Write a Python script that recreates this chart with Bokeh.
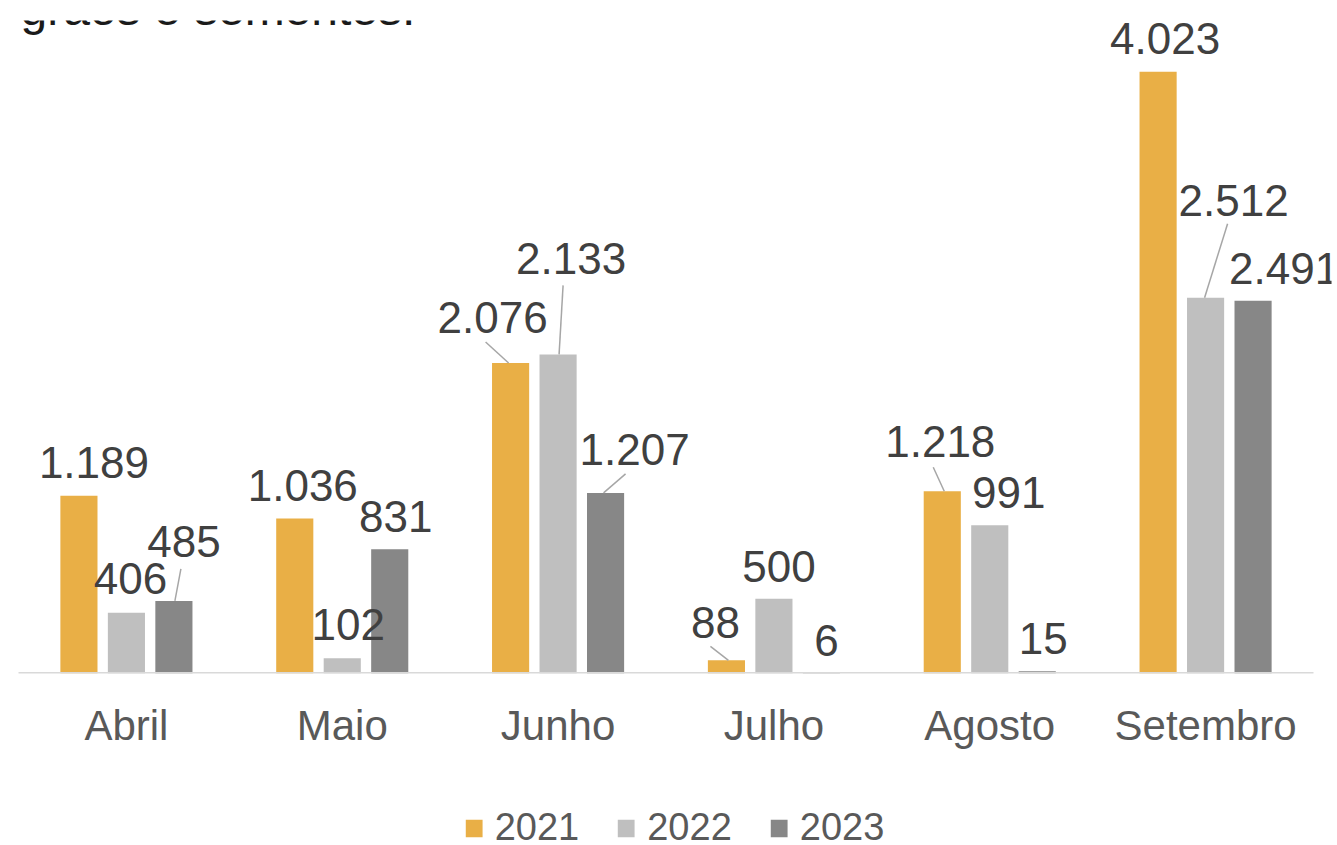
from bokeh.plotting import figure
from bokeh.layouts import column, row
from bokeh.models import FactorRange, Range1d, Label, Legend, LegendItem, ColumnDataSource, Spacer
from bokeh.transform import dodge
from bokeh.core.properties import value
from bokeh.embed import file_html
from bokeh.resources import INLINE

# ---------------- data ----------------
months = ["Abril", "Maio", "Junho", "Julho", "Agosto", "Setembro"]
series_names = ["2021", "2022", "2023"]
v2021 = [1189, 1036, 2076, 88, 1218, 4023]
v2022 = [406, 102, 2133, 500, 991, 2512]
v2023 = [485, 831, 1207, 6, 15, 2491]
title_text = "grãos e sementes."

# ---------------- styling / layout ----------------
colors = ["#E9AF46", "#BFBFBF", "#878787"]
bar_offsets = [-0.22, 0.0, 0.22]
bar_width = 0.172
FONT = "Liberation Sans"

W, H1, H2 = 1337, 780, 65
BL, BR, BT, BB = 0, 6, 20, 107
PAD = 18  # px of empty space on each side of the categories
frame_w = W - BL - BR
frame_h = H1 - BT - BB
y_end = 4365
px_cat = (frame_w - 2 * PAD) / len(months)
px_unit = frame_h / y_end
LEG_SHIFT = 10

# data label pixel offsets (relative to bar top centre), per series
lab_dx = [[15, 8, -18, -11, -2, 7], [4, 6, 13, 5, 19, 28], [10, 6, 29, 5, 6, 31]]
lab_dy = [[-33, -33, -45, -38, -50, -33], [-34, -34, -96, -32, -33, -97], [-59, -33, -43, -32, -33, -32]]

# leader lines: (month idx, series idx, start dx, start dy, end dx) in pixels
leaders = [
    (0, 2, 7, -32, 1),
    (2, 0, -25, -21, -2),
    (2, 1, 5, -69, 1),
    (2, 2, 20, -19, -2),
    (3, 0, -16, -14, 2),
    (4, 0, -9, -24, 2),
    (5, 1, 22, -74, -1),
]

series_vals = [v2021, v2022, v2023]


def fmt(v):
    return f"{v:,}".replace(",", ".")


xr = FactorRange(*months, factor_padding=0,
                 range_padding=2 * PAD / (frame_w - 2 * PAD), range_padding_units="percent")
p = figure(
    width=W, height=H1,
    x_range=xr,
    y_range=Range1d(0, y_end),
    output_backend="svg", toolbar_location=None,
    y_axis_location=None,
    min_border_left=BL, min_border_right=BR, min_border_top=BT, min_border_bottom=BB,
)
p.outline_line_color = None
p.grid.grid_line_color = None
p.background_fill_color = "white"
p.border_fill_color = "white"

sources = []
for s, vals in enumerate(series_vals):
    src = ColumnDataSource(dict(
        month=months,
        val=vals,
        lab=[fmt(v) for v in vals],
        dx=lab_dx[s],
        dy=lab_dy[s],
    ))
    sources.append(src)
    p.vbar(x=dodge("month", bar_offsets[s], range=p.x_range), top="val", width=bar_width,
           bottom=0, source=src, fill_color=colors[s], line_color=None)

# baseline (category axis line) spanning the categories only
p.segment(x0=[0], y0=[0], x1=[len(months)], y1=[0], line_color="#D9D9D9", line_width=3)

# leader lines
x0s, y0s, x1s, y1s = [], [], [], []
for (mi, si, sdx, sdy, edx) in leaders:
    v = series_vals[si][mi]
    xc = mi + 0.5 + bar_offsets[si]
    x0s.append(xc + sdx / px_cat)
    y0s.append(v - sdy / px_unit)
    x1s.append(xc + edx / px_cat)
    y1s.append(v)
p.segment(x0=x0s, y0=y0s, x1=x1s, y1=y1s, line_color="#A6A6A6", line_width=1.5)

# data labels (drawn on top of all bars)
for s, src in enumerate(sources):
    p.text(x=dodge("month", bar_offsets[s], range=p.x_range), y="val", text="lab",
           x_offset="dx", y_offset="dy", source=src,
           text_align="center", text_baseline="middle",
           text_font=value(FONT), text_font_size="44px", text_color="#404040")

# axis
ax = p.xaxis[0]
ax.axis_line_color = None
ax.major_tick_line_color = None
ax.minor_tick_line_color = None
ax.major_label_text_font = FONT
ax.major_label_text_font_size = "42px"
ax.major_label_text_color = "#595959"
ax.major_label_standoff = 22

# (cut-off) title
p.add_layout(Label(x=20, y=665, x_units="screen", y_units="screen",
                   text=title_text, text_font=FONT, text_font_size="48px",
                   text_color="#1A1A1A", text_baseline="alphabetic"))

# ---------------- legend strip ----------------
lg = figure(width=W - LEG_SHIFT, height=H2, output_backend="svg", toolbar_location=None,
            x_range=FactorRange(*months), y_range=Range1d(-2, -1),
            x_axis_location=None, y_axis_location=None,
            min_border_left=0, min_border_right=0, min_border_top=0, min_border_bottom=0)
lg.outline_line_color = None
lg.grid.grid_line_color = None
lg.border_fill_color = "white"
lg.background_fill_color = "white"
swatches = [lg.vbar(x="month", top="val", width=0, source=sources[i],
                    fill_color=colors[i], line_color=None) for i in range(3)]
legend = Legend(
    items=[LegendItem(label=series_names[i], renderers=[swatches[i]]) for i in range(3)],
    location="bottom_center", orientation="horizontal",
    glyph_width=21, glyph_height=22,
    label_text_font=FONT, label_text_font_size="38px", label_text_color="#595959",
    label_standoff=11, spacing=36, padding=0, margin=-4,
    border_line_color=None, background_fill_alpha=0,
)
lg.add_layout(legend)

layout = column(p, row(Spacer(width=LEG_SHIFT, height=H2), lg, spacing=0), spacing=0)
open("out.html", "w").write(file_html(layout, INLINE))
